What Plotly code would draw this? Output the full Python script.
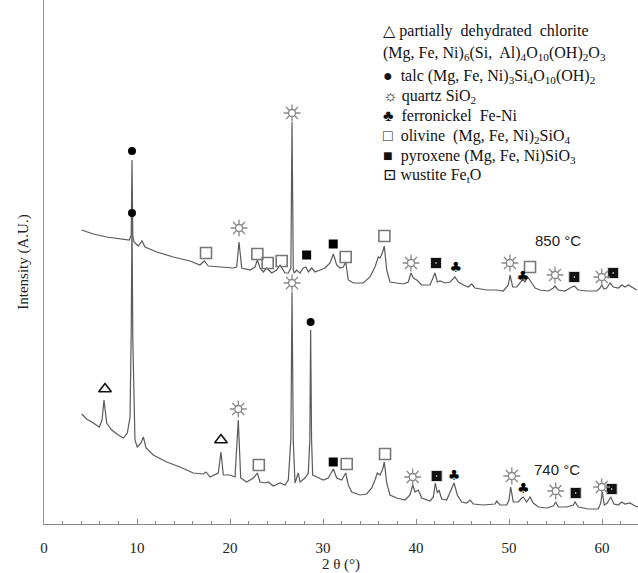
import plotly.graph_objects as go

# ---------------- data (2theta in degrees, intensity in arbitrary units) ----------------
t850_x = [4.05, 5.30, 6.74, 8.17, 9.17, 9.38, 9.46, 9.55, 9.68, 10.14, 10.54, 10.86, 12.12, 13.90,
          15.70, 16.77, 17.24, 17.67, 18.92, 20.35, 20.72, 20.97, 21.26, 22.15, 22.69, 22.94, 23.23,
          23.58, 23.95, 24.48, 25.02, 25.38, 25.91, 26.27, 26.54, 26.67, 26.80, 26.91, 27.17, 27.53,
          27.88, 28.17, 28.42, 28.78, 29.14, 29.68, 30.22, 30.75, 31.11, 31.47, 31.83, 32.18, 32.44,
          32.72, 33.26, 34.33, 35.05, 35.59, 35.95, 36.13, 36.38, 36.59, 36.85, 37.20, 37.92, 38.63,
          39.17, 39.46, 39.71, 40.08, 40.61, 41.51, 42.04, 42.29, 42.58, 43.12, 43.66, 44.19, 44.55,
          45.09, 45.62, 45.99, 46.34, 47.60, 48.68, 49.39, 49.92, 50.11, 50.40, 50.83, 51.18, 51.47,
          51.72, 52.01, 52.44, 52.80, 53.33, 54.23, 54.76, 54.95, 55.30, 56.02, 56.56, 57.02, 57.45,
          58.35, 59.43, 59.78, 59.97, 60.22, 60.51, 60.86, 61.22, 61.75, 62.12, 62.47, 62.83, 63.37,
          63.73]
t850_y = [294, 290, 287, 285, 284, 289, 364, 288, 282, 278, 283, 277, 272, 267,
          263, 259, 263, 258, 257, 256, 257, 282, 256, 254, 257, 264, 256,
          252, 256, 251, 254, 259, 251, 251, 256, 402, 254, 251, 254, 251,
          256, 257, 252, 256, 252, 254, 256, 261, 270, 259, 256, 257, 262,
          244, 241, 241, 247, 257, 267, 266, 271, 278, 254, 242, 241, 240,
          242, 251, 246, 244, 239, 239, 251, 242, 243, 241, 242, 247, 242,
          239, 237, 240, 236, 234, 234, 233, 239, 249, 237, 237, 241, 245,
          242, 247, 241, 236, 234, 233, 236, 238, 234, 233, 236, 238, 234,
          233, 233, 236, 239, 235, 236, 241, 237, 236, 239, 237, 239, 236,
          234]

t740_x = [4.05, 4.59, 5.30, 5.95, 6.24, 6.45, 6.74, 7.28, 7.99, 8.53, 8.96, 9.25, 9.38, 9.46, 9.55,
          9.78, 10.03, 10.43, 10.68, 10.97, 11.75, 13.19, 14.62, 16.05, 17.13, 17.42, 17.85, 18.39,
          18.74, 19.03, 19.28, 20.00, 20.54, 20.89, 21.15, 21.80, 22.51, 22.94, 23.23, 23.76, 24.12,
          24.66, 25.38, 25.91, 26.27, 26.54, 26.67, 26.80, 26.99, 27.34, 27.53, 28.06, 28.42, 28.58,
          28.67, 28.77, 28.89, 29.32, 30.03, 30.57, 31.11, 31.47, 32.01, 32.44, 32.72, 33.09, 33.98,
          34.70, 35.24, 35.59, 35.84, 36.13, 36.42, 36.59, 36.85, 37.20, 37.92, 38.82, 39.35, 39.65,
          39.89, 40.25, 40.61, 41.51, 41.86, 42.08, 42.29, 42.47, 42.76, 43.30, 43.66, 44.09, 44.44,
          44.91, 45.45, 45.81, 46.16, 47.24, 48.49, 48.68, 49.03, 49.75, 50.00, 50.18, 50.46, 51.00,
          51.37, 51.54, 51.90, 52.26, 52.61, 53.15, 54.05, 54.76, 55.02, 55.30, 56.20, 56.91, 57.10,
          57.45, 58.53, 59.60, 59.86, 60.03, 60.25, 60.57, 60.94, 61.29, 61.75, 62.12, 62.47, 63.01,
          63.55, 63.87]
t740_y = [110, 105, 101, 97, 104, 124, 101, 94, 89, 86, 91, 107, 194, 304, 184,
          84, 77, 81, 87, 76, 69, 62, 57, 51, 50, 52, 47, 49,
          51, 72, 49, 49, 47, 104, 46, 42, 46, 51, 42, 41, 42,
          38, 41, 39, 44, 84, 232, 84, 41, 51, 42, 46, 51, 84,
          194, 84, 49, 47, 44, 46, 55, 46, 44, 51, 39, 32, 29,
          30, 36, 44, 51, 49, 55, 62, 41, 29, 26, 24, 29, 39,
          32, 34, 26, 23, 27, 41, 31, 34, 25, 24, 31, 41, 29,
          22, 21, 24, 20, 19, 20, 23, 19, 19, 24, 37, 22, 22,
          26, 27, 22, 27, 21, 17, 16, 18, 22, 17, 17, 19, 22,
          17, 15, 15, 21, 32, 19, 21, 27, 20, 19, 22, 20, 21,
          18, 17]

# phase markers (2theta, intensity)
chlorite_x = [6.56, 19.03]
chlorite_y = [135, 84]
talc_x = [9.46, 9.46, 28.67]
talc_y = [373, 311, 202]
quartz_x = [20.97, 26.67, 39.46, 50.10, 54.95, 59.97, 26.67, 20.89, 39.64, 50.30, 55.02, 59.97]
quartz_y = [296, 411, 261, 261, 249, 247, 241, 115, 47, 48, 33, 37]
feni_x = [44.27, 51.47, 44.09, 51.54]
feni_y = [256, 247, 48, 35]
olivine_x = [17.42, 22.94, 24.05, 25.56, 32.44, 36.60, 52.26, 23.10, 32.55, 36.67]
olivine_y = [271, 270, 261, 263, 267, 288, 257, 59, 60, 70]
pyroxene_x = [28.24, 31.10, 31.10]
pyroxene_y = [269, 280, 62]
wustite_x = [42.15, 57.02, 61.20, 42.22, 57.17, 61.04]
wustite_y = [261, 247, 251, 48, 31, 35]

temp_labels = ["850 °C", "740 °C"]
temp_x = [55.27, 55.16]
temp_y = [282, 53]

legend_lines = [
    "△ partially  dehydrated  chlorite",
    "(Mg, Fe, Ni)<sub>6</sub>(Si,  Al)<sub>4</sub>O<sub>10</sub>(OH)<sub>2</sub>O<sub>3</sub>",
    "●  talc (Mg, Fe, Ni)<sub>3</sub>Si<sub>4</sub>O<sub>10</sub>(OH)<sub>2</sub>",
    "☼\ufe0e quartz SiO<sub>2</sub>",
    "♣  ferronickel  Fe-Ni",
    "□  olivine  (Mg, Fe, Ni)<sub>2</sub>SiO<sub>4</sub>",
    "■  pyroxene (Mg, Fe, Ni)SiO<sub>3</sub>",
    "⊡ wustite Fe<sub>t</sub>O",
]
legend_y = [493, 471, 448, 428, 409, 388, 368, 349]
legend_x = 36.2

# ---------------- figure ----------------
LINE = "#5a5a5a"
fig = go.Figure()
for xs, ys in [(t850_x, t850_y), (t740_x, t740_y)]:
    fig.add_trace(go.Scatter(x=xs, y=ys, mode="lines",
                             line=dict(color=LINE, width=1.2), hoverinfo="skip"))

fig.add_trace(go.Scatter(x=chlorite_x, y=chlorite_y, mode="markers",
                         marker=dict(symbol="triangle-up-open", size=11, color="#111",
                                     line=dict(width=1.6, color="#111"))))
fig.add_trace(go.Scatter(x=talc_x, y=talc_y, mode="markers",
                         marker=dict(symbol="circle", size=8, color="#000")))
fig.add_trace(go.Scatter(x=olivine_x, y=olivine_y, mode="markers",
                         marker=dict(symbol="square-open", size=11, color="#777",
                                     line=dict(width=1.6, color="#777"))))
fig.add_trace(go.Scatter(x=pyroxene_x, y=pyroxene_y, mode="markers",
                         marker=dict(symbol="square", size=9, color="#000")))
fig.add_trace(go.Scatter(x=wustite_x, y=wustite_y, mode="markers",
                         marker=dict(symbol="square-dot", size=11, color="#111",
                                     line=dict(width=1, color="#ddd"))))
# quartz "sun" symbol: rays + open circle
fig.add_trace(go.Scatter(x=quartz_x, y=quartz_y, mode="markers",
                         marker=dict(symbol="asterisk-open", size=14, color="#888",
                                     line=dict(width=1.3, color="#888"))))
fig.add_trace(go.Scatter(x=quartz_x, y=quartz_y, mode="markers",
                         marker=dict(symbol="circle", size=7, color="white",
                                     line=dict(width=1.3, color="#888"))))
fig.add_trace(go.Scatter(x=feni_x, y=feni_y, mode="text", text=["♣"] * len(feni_x),
                         textposition="middle center",
                         textfont=dict(family="DejaVu Sans", size=14, color="#000")))
fig.add_trace(go.Scatter(x=temp_x, y=temp_y, mode="text", text=temp_labels,
                         textposition="middle center",
                         textfont=dict(family="Liberation Sans", size=15, color="#222")))

for txt, yy in zip(legend_lines, legend_y):
    fig.add_annotation(x=legend_x, y=yy, xref="x", yref="y", text=txt, showarrow=False,
                       xanchor="left", yanchor="middle",
                       font=dict(family="Liberation Serif, DejaVu Serif", size=16, color="#111"))

fig.update_layout(
    width=638, height=573,
    margin=dict(l=44, r=0, t=0, b=49),
    paper_bgcolor="white", plot_bgcolor="white",
    showlegend=False,
    font=dict(family="Liberation Serif", size=15, color="#222"),
)
fig.update_xaxes(range=[0, 63.87], showgrid=False, zeroline=False,
                 showline=True, linecolor="#888", linewidth=1,
                 ticks="inside", ticklen=5, tickcolor="#888", dtick=10, tick0=0,
                 ticklabelstandoff=10,
                 minor=dict(ticks="inside", ticklen=3, dtick=2, tickcolor="#888"),
                 tickfont=dict(family="Liberation Serif", size=15, color="#222"),
                 title=dict(text="2 θ (°)", font=dict(family="Liberation Serif", size=15), standoff=0))
fig.update_yaxes(range=[0, 524], showgrid=False, zeroline=False,
                 showline=True, linecolor="#999", linewidth=1,
                 showticklabels=False, ticks="",
                 title=dict(text="Intensity (A.U.)", font=dict(family="Liberation Serif", size=15), standoff=10))

fig.write_html("out.html")
